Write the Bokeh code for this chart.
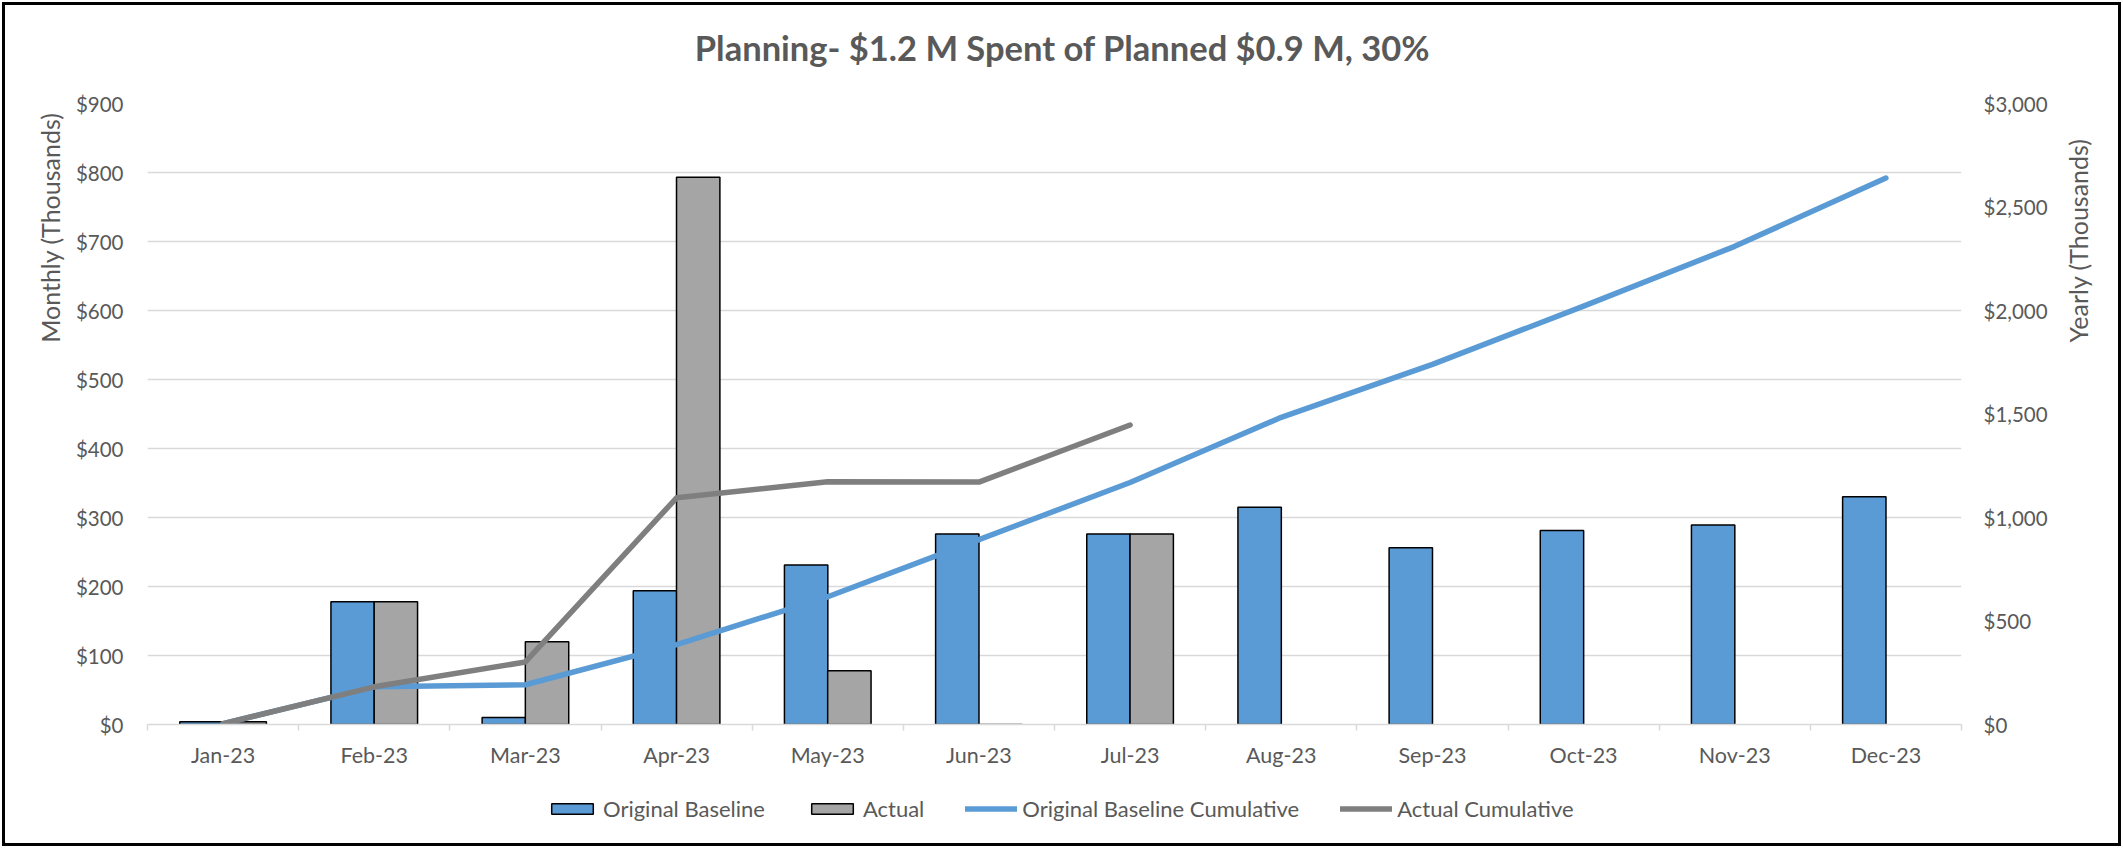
from math import pi
from bokeh.plotting import figure
from bokeh.layouts import column, row
from bokeh.models import (Range1d, LinearAxis, FixedTicker, NumeralTickFormatter,
                          Legend, LegendItem, Title, Label, ColumnDataSource)
from bokeh.embed import file_html
from bokeh.resources import INLINE

# ---------------- data (thousands of $) ----------------
months = ["Jan-23", "Feb-23", "Mar-23", "Apr-23", "May-23", "Jun-23",
          "Jul-23", "Aug-23", "Sep-23", "Oct-23", "Nov-23", "Dec-23"]
baseline = [4, 178, 10, 194, 231, 276, 276, 315, 256, 281, 289, 330]
actual = [4, 178, 120, 793, 78, -2, 276]
baseline_cum = [4, 182, 192, 386, 617, 893, 1169, 1484, 1740, 2021, 2310, 2640]
actual_cum = [4, 182, 302, 1095, 1173, 1171, 1447]
left_ticks = [0, 100, 200, 300, 400, 500, 600, 700, 800, 900]
right_ticks = [0, 500, 1000, 1500, 2000, 2500, 3000]
title_text = "Planning- $1.2 M Spent of Planned $0.9 M, 30%"
series_names = ["Original Baseline", "Actual", "Original Baseline Cumulative", "Actual Cumulative"]

BLUE = "#5B9BD5"
GRAY = "#A5A5A5"
DGRAY = "#7F7F7F"
TXT = "#595959"
GRID = "#D9D9D9"
FONT = "Lato"
LW = 5.5

n = len(months)
centers = [i + 0.5 for i in range(n)]
off = 0.143
bw = 0.287


def blank(w, h):
    f = figure(frame_width=w, frame_height=h, x_range=Range1d(0, w), y_range=Range1d(0, h),
               x_axis_type=None, y_axis_type=None, output_backend="svg",
               toolbar_location=None, min_border=0, title=None)
    f.xgrid.visible = False
    f.ygrid.visible = False
    f.outline_line_color = None
    f.background_fill_color = "white"
    f.border_fill_color = "white"
    return f


# ---------------- title strip ----------------
tfig = blank(2113, 70)
tfig.add_layout(Label(x=1057, y=28, text=title_text, text_align="center", text_baseline="middle",
                      text_font=FONT, text_font_style="bold", text_font_size="34.5px",
                      text_color=TXT))

# ---------------- main chart ----------------
p = figure(frame_width=1814, frame_height=621, x_range=Range1d(0, n), y_range=Range1d(0, 900),
           output_backend="svg", toolbar_location=None, title=None,
           min_border_left=142, min_border_right=94, min_border_top=28, min_border_bottom=61)
p.extra_y_ranges = {"cum": Range1d(0, 3000)}
p.outline_line_color = None
p.background_fill_color = "white"
p.border_fill_color = "white"

src_b = ColumnDataSource(dict(x=[c - off for c in centers], top=baseline))
src_a = ColumnDataSource(dict(x=[c + off for c in centers[:len(actual)]], top=actual))
p.vbar(x="x", top="top", bottom=0, width=bw, source=src_b,
       fill_color=BLUE, line_color="black", line_width=1.5)
p.vbar(x="x", top="top", bottom=0, width=bw, source=src_a,
       fill_color=GRAY, line_color="black", line_width=1.5)
p.line(centers, baseline_cum, y_range_name="cum", line_color=BLUE,
       line_width=LW, line_cap="round", line_join="round")
p.line(centers[:len(actual_cum)], actual_cum, y_range_name="cum", line_color=DGRAY,
       line_width=LW, line_cap="round", line_join="round")

p.xgrid.visible = False
p.ygrid.grid_line_color = GRID
p.ygrid.grid_line_width = 1.5

ya = p.yaxis[0]
ya.ticker = FixedTicker(ticks=left_ticks)
ya.formatter = NumeralTickFormatter(format="$0,0")
ya.axis_line_color = None
ya.major_tick_line_color = None
ya.minor_tick_line_color = None
ya.major_label_standoff = 18
ya.major_label_text_font = FONT
ya.major_label_text_font_size = "20.5px"
ya.major_label_text_color = TXT

xa = p.xaxis[0]
xa.ticker = FixedTicker(ticks=centers, minor_ticks=list(range(n + 1)))
xa.major_label_overrides = {c: m for c, m in zip(centers, months)}
xa.major_tick_line_color = None
xa.minor_tick_out = 6
xa.minor_tick_in = 0
xa.minor_tick_line_color = GRID
xa.minor_tick_line_width = 1.5
xa.axis_line_color = GRID
xa.axis_line_width = 1.5
xa.major_label_standoff = 11
xa.major_label_text_font = FONT
xa.major_label_text_font_size = "21.5px"
xa.major_label_text_color = TXT

ra = LinearAxis(y_range_name="cum", ticker=FixedTicker(ticks=right_ticks),
                formatter=NumeralTickFormatter(format="$0,0"))
ra.axis_line_color = None
ra.major_tick_line_color = None
ra.minor_tick_line_color = None
ra.major_label_standoff = 16
ra.major_label_text_font = FONT
ra.major_label_text_font_size = "20.5px"
ra.major_label_text_color = TXT
p.add_layout(ra, "right")

p.add_layout(Title(text="Monthly (Thousands)", align="right", offset=9, standoff=16,
                   text_font=FONT, text_font_size="25px", text_font_style="normal",
                   text_color=TXT), "left")

# ---------------- right axis title strip ----------------
rfig = blank(63, 710)
rfig.add_layout(Label(x=22, y=573, text="Yearly (Thousands)", angle=pi / 2,
                      text_align="center", text_baseline="middle", text_font=FONT,
                      text_font_size="25px", text_color=TXT))

# ---------------- legend strip ----------------
# legend swatch renderers sit outside the visible range; only their legend glyphs show
lfig = blank(2113, 58)
lr_b = lfig.vbar(x=[-100], top=[-100], bottom=-101, width=1, fill_color=BLUE,
                 line_color="black", line_width=1.5)
lr_a = lfig.vbar(x=[-100], top=[-100], bottom=-101, width=1, fill_color=GRAY,
                 line_color="black", line_width=1.5)
lr_bc = lfig.line(x=[-100, -99], y=[-100, -100], line_color=BLUE, line_width=LW, line_cap="round")
lr_ac = lfig.line(x=[-100, -99], y=[-100, -100], line_color=DGRAY, line_width=LW, line_cap="round")
legend = Legend(items=[LegendItem(label=series_names[0], renderers=[lr_b]),
                       LegendItem(label=series_names[1], renderers=[lr_a]),
                       LegendItem(label=series_names[2], renderers=[lr_bc]),
                       LegendItem(label=series_names[3], renderers=[lr_ac])],
                orientation="horizontal", location=(541, 21),
                glyph_width=52, glyph_height=13, label_standoff=5, spacing=41,
                border_line_color=None, background_fill_alpha=0,
                label_text_font=FONT, label_text_font_size="22px", label_text_color=TXT,
                padding=0, margin=0)
lfig.add_layout(legend, "center")

layout = column(tfig, row(p, rfig), lfig)
layout.styles = {"position": "relative", "left": "5px", "top": "5px",
                 "outline": "3px solid black"}

open("out.html", "w").write(file_html(layout, INLINE))
